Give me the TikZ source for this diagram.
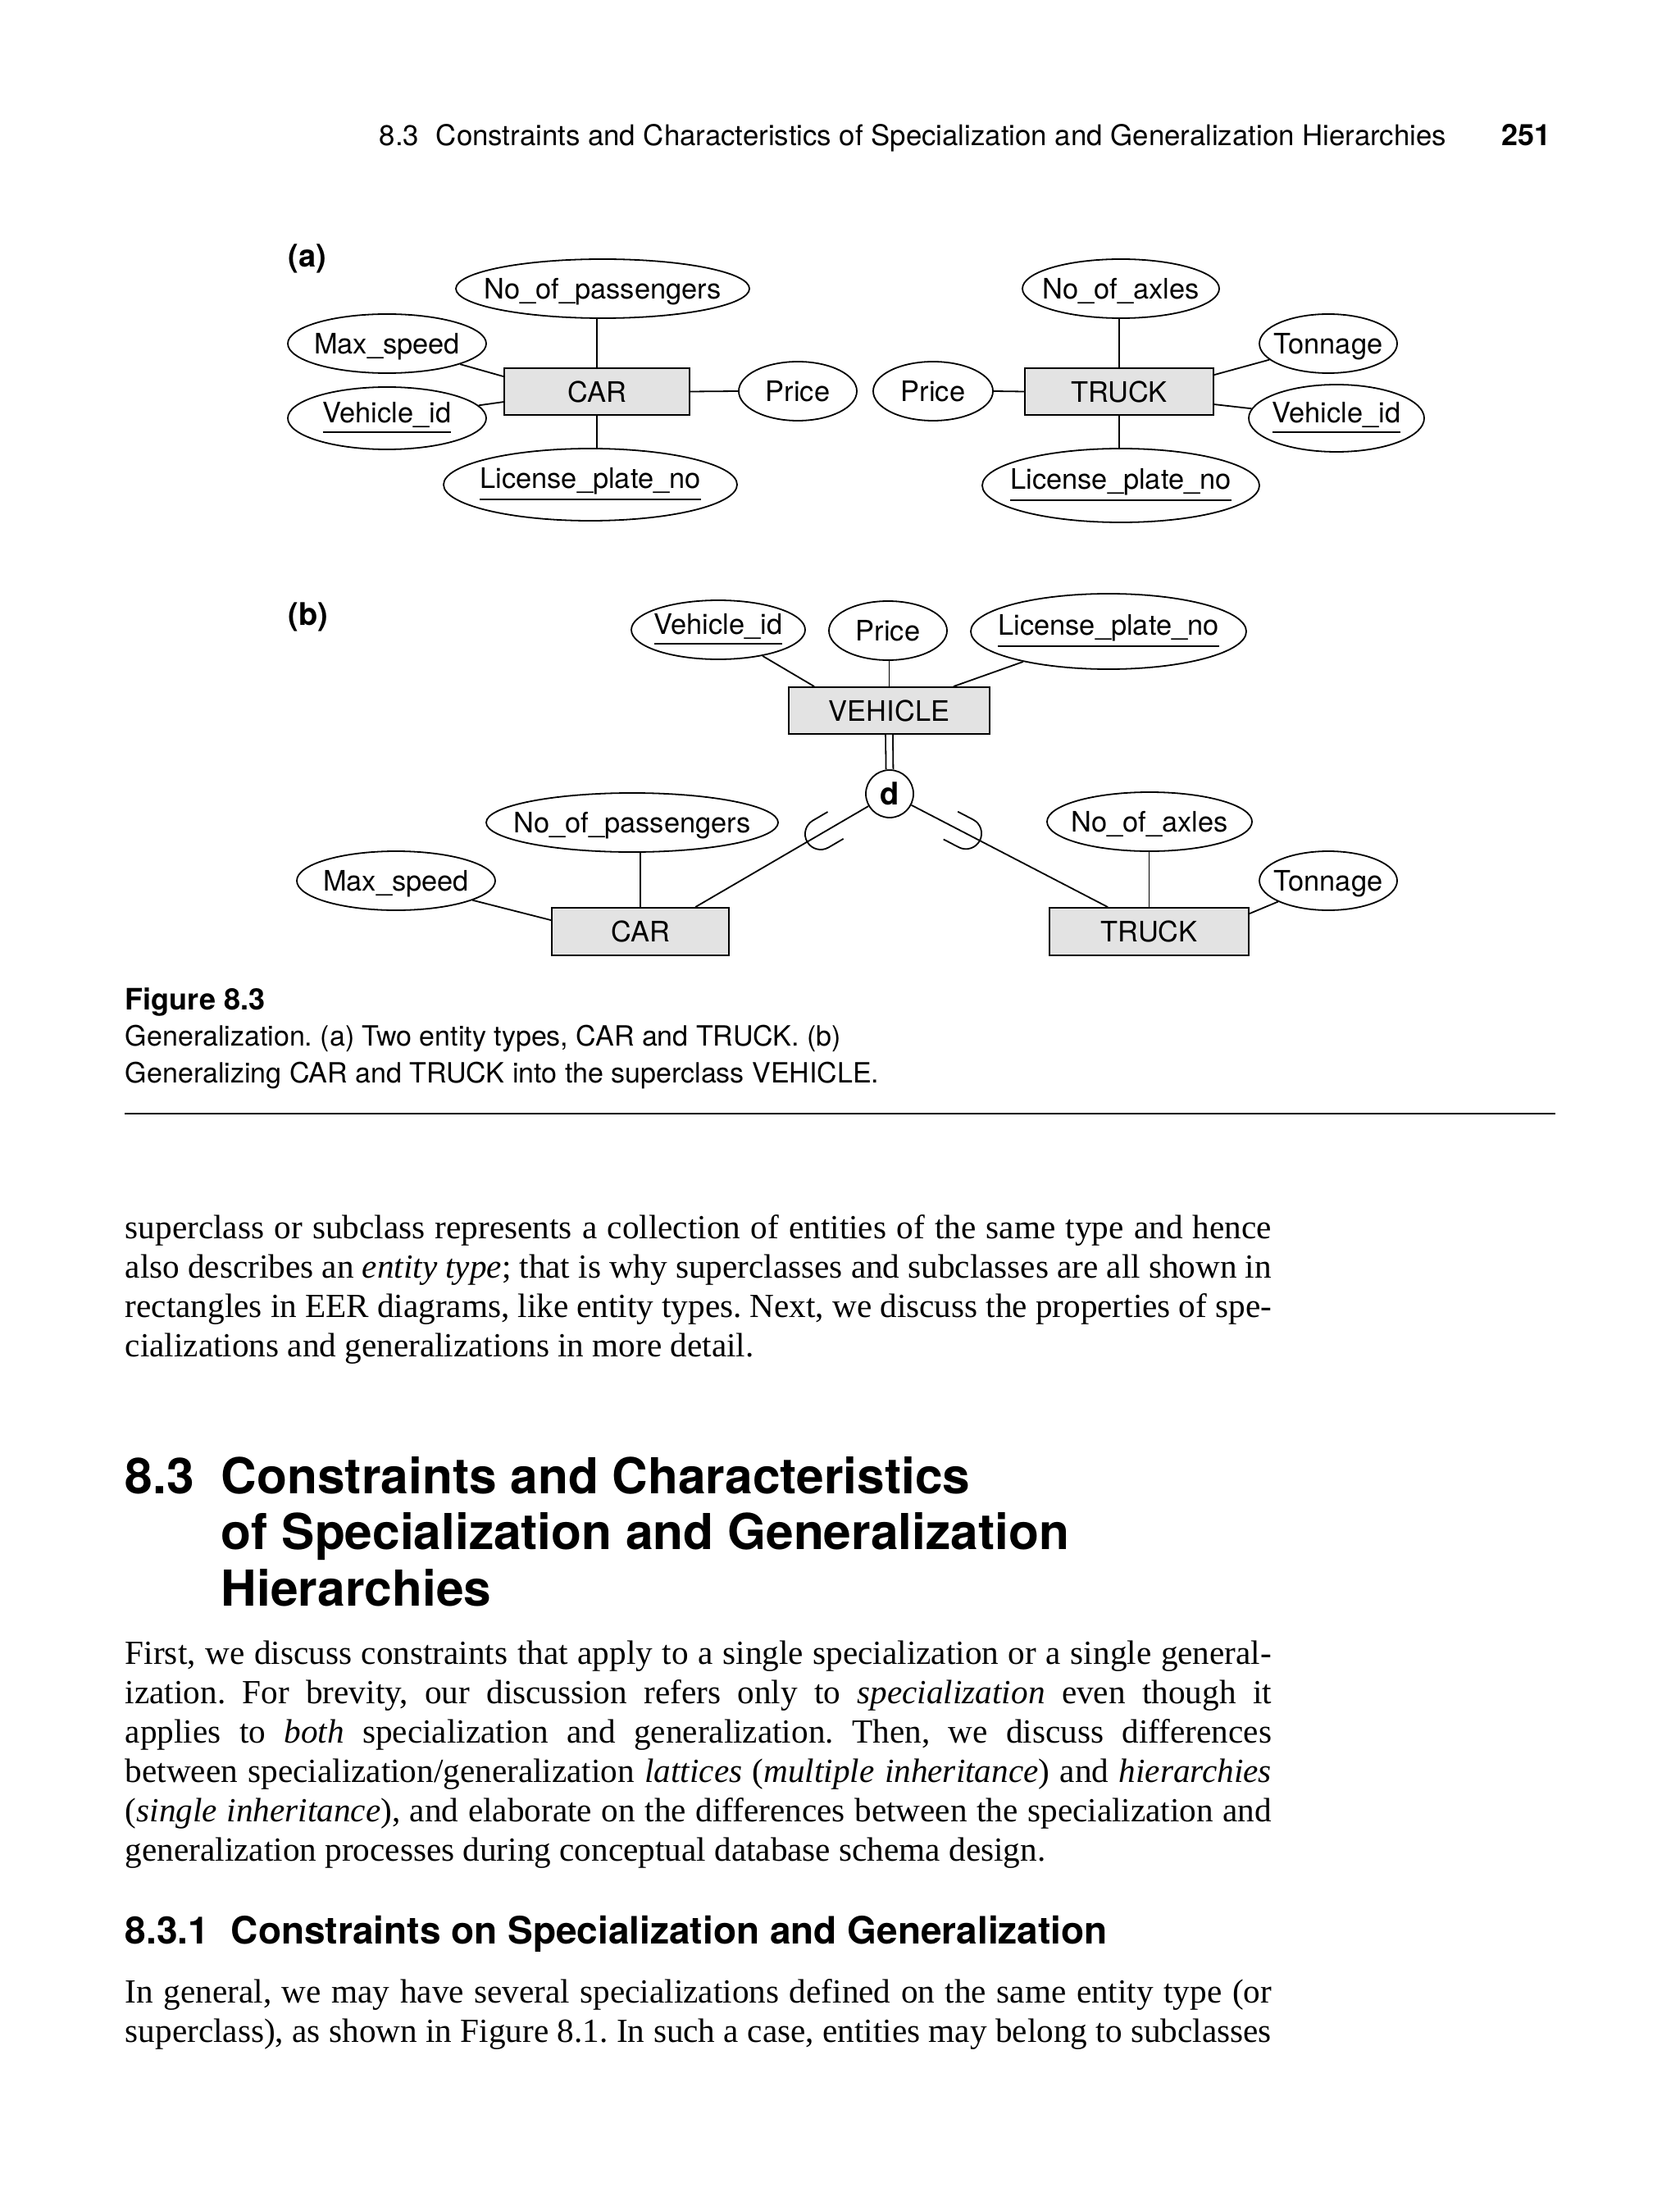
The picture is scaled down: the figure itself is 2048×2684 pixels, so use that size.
\documentclass[tikz,border=0pt]{standalone}
\usepackage{fontspec}
\setmainfont{Liberation Serif}
\newfontfamily\helv{TeX Gyre Heros}
\usetikzlibrary{shapes.geometric,calc}
\frenchspacing

\newcommand{\diafont}{\helv\fontsize{8.6}{10}\selectfont}
\newcommand{\bodyfont}{\fontsize{10.3}{12}\selectfont}
\newcommand{\jline}[1]{\makebox[349.5pt][s]{#1}}
\newcommand{\attxt}[1]{\makebox[0pt]{\vphantom{X}\smash{#1}}}
\newcommand{\keytxt}[1]{\makebox[0pt]{\underline{#1}}}

\tikzset{
  attr/.style 2 args={ellipse, draw, inner sep=0pt, minimum width=#1*0.5pt, minimum height=#2*0.5pt, font=\diafont},
  ent/.style 2 args={rectangle, draw, fill=black!11, inner sep=0pt, minimum width=#1*0.25pt, minimum height=#2*0.25pt, font=\diafont},
  dcirc/.style={circle, draw, fill=white, inner sep=0pt, minimum size=14.5pt, font=\helv\bfseries\fontsize{9.5}{10}\selectfont},
  txt/.style={anchor=base west, inner sep=0pt},
  body/.style={txt, font=\bodyfont},
  subcup/.pic={\draw (0,19) -- (21,19) arc[start angle=90, end angle=-90, radius=19] -- (0,-19);}
}

\begin{document}
\begin{tikzpicture}[x=0.25pt, y=0.25pt, line width=0.45pt]
    \fill[white] (0,0) rectangle (2048,-2684);
% running head
    \node[txt, font=\helv\fontsize{8.7}{10}\selectfont] (hnum) at (462,-178) {8.3};
    \node[txt, font=\helv\fontsize{8.7}{10}\selectfont] (htitle) at (531,-178) {Constraints and Characteristics of Specialization and Generalization Hierarchies};
    \node[anchor=base east, inner sep=0pt, font=\helv\bfseries\fontsize{9}{10}\selectfont] (hpage) at (1892,-178) {251};
% (a) two entity types
    \node[txt, font=\helv\bfseries\fontsize{9.5}{10}\selectfont] (laba) at (351,-326) {(a)};
    \node[ent={226}{57}] (cara) at (728,-477.5) {CAR};
    \node[attr={179}{36}] (npa) at (735,-352) {\attxt{No\_of\_passengers}};
    \node[attr={121}{36}] (msa) at (472,-419) {\attxt{Max\_speed}};
    \node[attr={121}{38}] (via) at (472,-510) {\keytxt{Vehicle\_id}};
    \node[attr={179}{44}] (lpa) at (720,-591) {\keytxt{License\_plate\_no}};
    \node[attr={72}{36}] (prca) at (973,-477) {\attxt{Price}};
    \node[ent={230}{57}] (trka) at (1365,-477.5) {TRUCK};
    \node[attr={73}{36}] (prct) at (1138,-477) {\attxt{Price}};
    \node[attr={120}{36}] (nax) at (1367,-352) {\attxt{No\_of\_axles}};
    \node[attr={84}{36}] (tona) at (1620,-419) {\attxt{Tonnage}};
    \node[attr={107}{41}] (vit) at (1630,-510) {\keytxt{Vehicle\_id}};
    \node[attr={169}{45}] (lpt) at (1367,-592) {\keytxt{License\_plate\_no}};
    \draw (cara.north) -- (cara.north |- npa.south);
    \draw (cara.south) -- (cara.south |- lpa.north);
    \draw (msa) -- ($(cara.north west)+(0,-11)$);
    \draw (via) -- ($(cara.north west)+(0,-42)$);
    \draw (cara.east) -- (prca.west);
    \draw (prct.east) -- (trka.west);
    \draw (trka.north) -- (trka.north |- nax.south);
    \draw (trka.south) -- (trka.south |- lpt.north);
    \draw (tona) -- ($(trka.north east)+(0,-9)$);
    \draw (vit) -- ($(trka.north east)+(0,-45)$);
% (b) generalization into VEHICLE
    \node[txt, font=\helv\bfseries\fontsize{9.5}{10}\selectfont] (labb) at (351,-762) {(b)};
    \node[ent={245}{57}] (veh) at (1084.5,-866.5) {VEHICLE};
    \node[attr={106}{36}] (vib) at (876,-768) {\keytxt{Vehicle\_id}};
    \node[attr={72}{36}] (prcb) at (1083,-769) {\attxt{Price}};
    \node[attr={168}{46}] (lpb) at (1352,-770) {\keytxt{License\_plate\_no}};
    \node[dcirc] (d) at (1085,-968) {d};
    \node[ent={216}{58}] (carb) at (781,-1136) {CAR};
    \node[attr={178}{36}] (npb) at (771,-1003) {\attxt{No\_of\_passengers}};
    \node[attr={121}{36}] (msb) at (483,-1074) {\attxt{Max\_speed}};
    \node[ent={243}{58}] (trkb) at (1401.5,-1136) {TRUCK};
    \node[attr={125}{36}] (naxb) at (1402,-1002) {\attxt{No\_of\_axles}};
    \node[attr={84}{36}] (tonb) at (1620,-1074) {\attxt{Tonnage}};
    \coordinate (carhit) at ($(carb.north west)+(176,0)$);
    \coordinate (trkhit) at ($(trkb.north west)+(72,0)$);
    \draw (vib) -- ($(veh.north west)+(32,0)$);
    \draw (veh.north) -- (veh.north |- prcb.south);
    \draw (lpb) -- ($(veh.north east)+(-45,0)$);
    \draw[double, double distance=1.75pt] (veh.south) -- (d.north);
    \draw (d) -- (carhit) pic[pos=0.19, sloped, allow upside down]{subcup};
    \draw (d) -- (trkhit) pic[pos=0.2, sloped, allow upside down]{subcup};
    \draw (carb.north) -- (carb.north |- npb.south);
    \draw (msb) -- ($(carb.north west)+(0,-16)$);
    \draw (trkb.north) -- (trkb.north |- naxb.south);
    \draw (tonb) -- ($(trkb.north east)+(0,-8)$);
% caption
    \node[txt, font=\helv\bfseries\fontsize{9}{11}\selectfont] (figno) at (152,-1231) {Figure 8.3};
    \node[txt, font=\helv\fontsize{8.5}{11}\selectfont] (capa) at (152,-1275) {Generalization. (a) Two entity types, CAR and TRUCK. (b)};
    \node[txt, font=\helv\fontsize{8.5}{11}\selectfont] (capb) at (152,-1320) {Generalizing CAR and TRUCK into the superclass VEHICLE.};
    \draw[line width=0.4pt] (152,-1358) -- (1897,-1358);
% body text
    \node[body] (pa1) at (152,-1510) {\jline{superclass or subclass represents a collection of entities of the same type and hence}};
    \node[body] (pa2) at (152,-1558) {\jline{also describes an \textit{entity type}; that is why superclasses and subclasses are all shown in}};
    \node[body] (pa3) at (152,-1606) {\jline{rectangles in EER diagrams, like entity types. Next, we discuss the properties of spe-}};
    \node[body] (pa4) at (152,-1654) {cializations and generalizations in more detail.};
% section heading
    \node[txt, font=\helv\bfseries\fontsize{15.1}{17}\selectfont] (secnum) at (152,-1821) {8.3};
    \node[txt, font=\helv\bfseries\fontsize{15.1}{17}\selectfont] (sec1) at (269,-1821) {Constraints and Characteristics};
    \node[txt, font=\helv\bfseries\fontsize{15.1}{17}\selectfont] (sec2) at (269,-1889) {of Specialization and Generalization};
    \node[txt, font=\helv\bfseries\fontsize{15.1}{17}\selectfont] (sec3) at (269,-1958) {Hierarchies};
    \node[body] (pb1) at (152,-2029) {\jline{First, we discuss constraints that apply to a single specialization or a single general-}};
    \node[body] (pb2) at (152,-2077) {\jline{ization. For brevity, our discussion refers only to \textit{specialization} even though it}};
    \node[body] (pb3) at (152,-2125) {\jline{applies to \textit{both} specialization and generalization. Then, we discuss differences}};
    \node[body] (pb4) at (152,-2173) {\jline{between specialization/generalization \textit{lattices} (\textit{multiple inheritance}) and \textit{hierarchies}}};
    \node[body] (pb5) at (152,-2221) {\jline{(\textit{single inheritance}), and elaborate on the differences between the specialization and}};
    \node[body] (pb6) at (152,-2269) {generalization processes during conceptual database schema design.};
% subsection heading
    \node[txt, font=\helv\bfseries\fontsize{11.5}{13}\selectfont] (subnum) at (152,-2370) {8.3.1};
    \node[txt, font=\helv\bfseries\fontsize{11.5}{13}\selectfont] (subsec) at (281,-2370) {Constraints on Specialization and Generalization};
    \node[body] (pc1) at (152,-2442) {\jline{In general, we may have several specializations defined on the same entity type (or}};
    \node[body] (pc2) at (152,-2490) {\jline{superclass), as shown in Figure 8.1. In such a case, entities may belong to subclasses}};
\end{tikzpicture}
\end{document}
